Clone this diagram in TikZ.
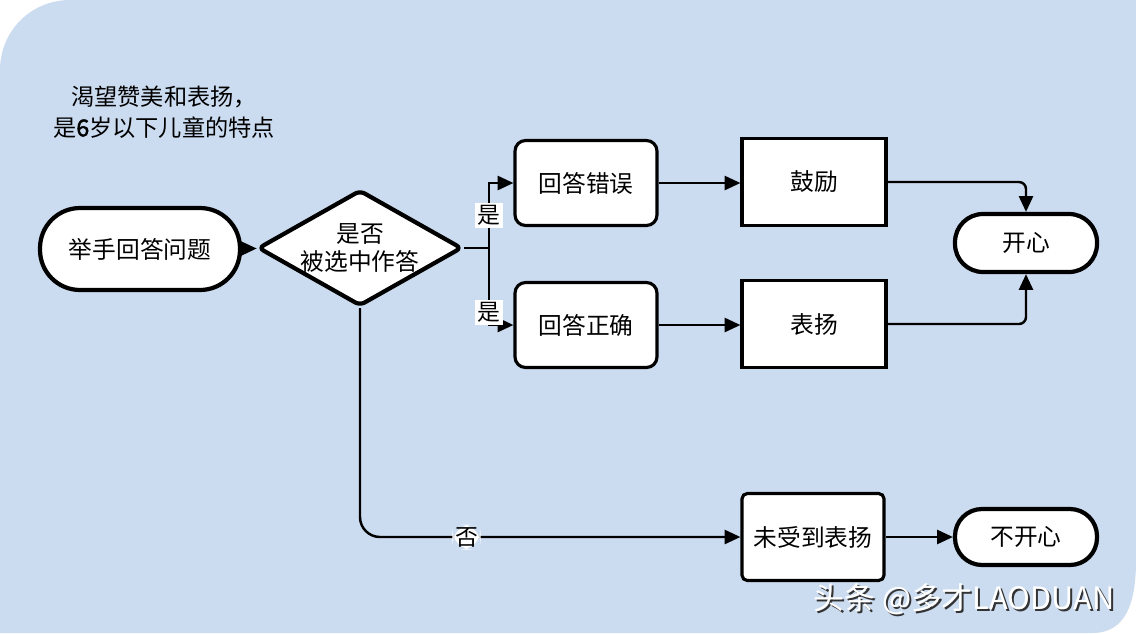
\documentclass[tikz,border=0pt]{standalone}
\usepackage{fontspec}
\newfontfamily\cjk[AutoFakeBold=2]{Noto Sans CJK SC}
\usepackage{tikz}
\usetikzlibrary{shapes.geometric,arrows.meta,positioning}
\definecolor{bgblue}{HTML}{CCDCF0}
\tikzset
{
    termnode/.style = {rectangle, draw=black, fill=white, line width=2.4pt, align=center, font=\cjk\fontsize{13.5}{16}\selectfont},
    decnode/.style  = {diamond, draw=black, fill=white, line width=2.4pt, rounded corners=3pt, aspect=1.76, inner sep=-2pt, minimum width=4.08cm, minimum height=2.32cm, align=center, font=\cjk\fontsize{13.5}{15.5}\selectfont},
    roundbox/.style = {rectangle, draw=black, fill=white, line width=1.8pt, rounded corners=6pt, minimum width=2.84cm, minimum height=1.7cm, align=center, font=\cjk\fontsize{13.5}{16}\selectfont},
    procnode/.style = {rectangle, draw=black, fill=white, line width=1.8pt, minimum width=2.88cm, minimum height=1.74cm, align=center, font=\cjk\fontsize{13.5}{16}\selectfont},
    yesno/.style    = {fill=white, inner sep=1.5pt, font=\cjk\fontsize{13}{13}\selectfont},
    conn/.style     = {->, line width=1.4pt},
    wmark/.style    = {inner sep=0pt, font=\cjk\fontsize{17.5}{19}\selectfont}
}

\begin{document}
\begin{tikzpicture}[x=0.02cm, y=-0.02cm, >={Triangle[length=9pt,width=8pt]}]
    \useasboundingbox (0,0) rectangle (1136,633);
    % ------------------------------------------------ background
    \fill [bgblue] (0,633) -- (0,70) .. controls (0,31) and (31,0) .. (70,0) -- (1136,0)
        -- (1136,560) .. controls (1136,603) and (1126,633) .. (1092,633) -- cycle;

    \node [align=center, font=\cjk\fontsize{13.2}{17.6}\selectfont] (title) at (164,112) {渴望赞美和表扬，\\是{\bfseries 6}岁以下儿童的特点};

    \node [termnode, minimum width=4cm, minimum height=1.64cm, rounded corners=0.8cm] (raise) at (140,249) {举手回答问题};
    \node [decnode] (choose) at (360,248) {是否\\被选中作答};
    \node [roundbox] (wrong) at (586,183) {回答错误};
    \node [roundbox] (right) at (586,325) {回答正确};
    \node [procnode] (cheer) at (814,182) {鼓励};
    \node [procnode] (praise) at (814,324) {表扬};
    \node [procnode, minimum width=2.84cm, rounded corners=3pt] (nopraise) at (813,537) {未受到表扬};
    \node [termnode, minimum width=2.84cm, minimum height=1.16cm, rounded corners=0.56cm] (happy) at (1026,243) {开心};
    \node [termnode, minimum width=2.84cm, minimum height=1.12cm, rounded corners=0.54cm] (unhappy) at (1026,537) {不开心};
    \coordinate (fork) at (489,248);

    % ------------------------------------------------ connectors
    \draw [conn] (raise) -- (choose);
    \draw [conn] (choose.east) -- (fork) |- node [yesno, pos=0.25] {是} (wrong.west);
    \draw [conn] (fork) |- node [yesno, pos=0.42] {是} (right.west);
    \draw [conn, rounded corners=0.4cm] (choose.south) |- node [yesno, pos=0.64] {否} (nopraise.west);
    \draw [conn] (wrong.east) -- (cheer.west |- wrong.east);
    \draw [conn] (right.east) -- (praise.west |- right.east);
    \draw [conn, rounded corners=4pt] (cheer.east) -| (happy.north);
    \draw [conn, rounded corners=4pt] (praise.east) -| (happy.south);
    \draw [conn] (nopraise) -- (unhappy);

    % ------------------------------------------------ watermark
    \node [wmark, black!80] (wmshade) at (966,601) {头条 @多才LAODUAN};
    \node [wmark, white] (wm) at (964,599) {头条 @多才LAODUAN};
\end{tikzpicture}
\end{document}
